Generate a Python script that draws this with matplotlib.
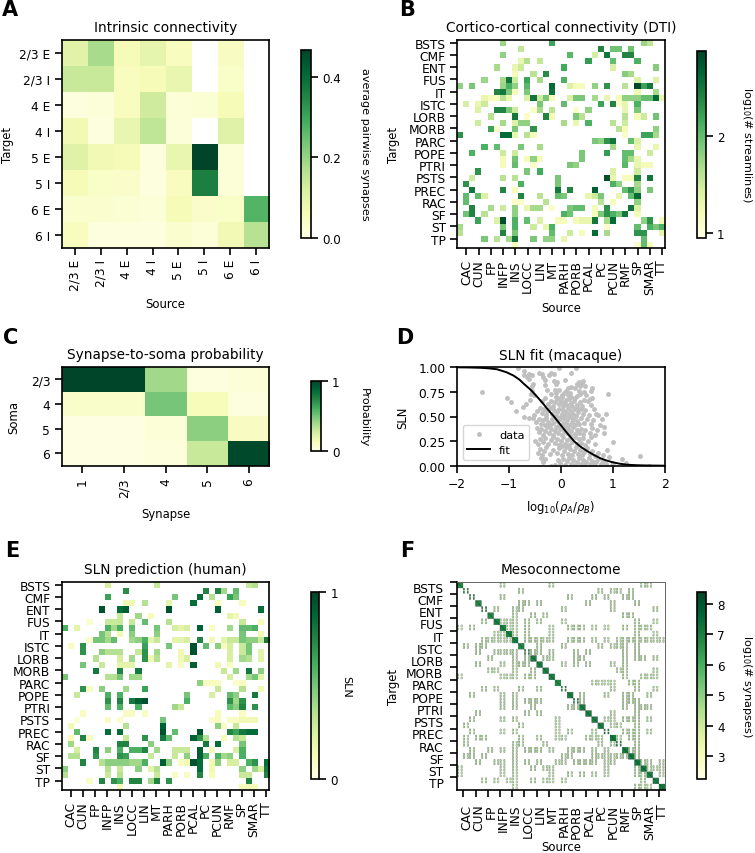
import numpy as np
import matplotlib
matplotlib.use("Agg")
import matplotlib.pyplot as plt

W, H = 755, 854
plt.rcParams["font.family"] = "DejaVu Sans"
plt.rcParams["axes.linewidth"] = 1.2

# ==================================
# Data
# ==================================

pops = ["2/3 E", "2/3 I", "4 E", "4 I", "5 E", "5 I", "6 E", "6 I"]
n = np.nan
intrinsic = [
    [.10, .18, .06, .09, .05, n, .045, n],
    [.14, .14, .05, .06, .085, n, .04, n],
    [.01, .015, .05, .13, .02, .025, .06, n],
    [.07, .01, .085, .15, .015, n, .105, n],
    [.105, .07, .06, .01, .085, .467, .02, n],
    [.06, .04, .035, .01, .05, .36, .02, n],
    [.03, .03, .025, .02, .06, .035, .04, .27],
    [.05, .01, .01, .01, .03, .02, .07, .16],
]

syn_layers = ["1", "2/3", "4", "5", "6"]
soma_layers = ["2/3", "4", "5", "6"]
syn_to_soma = [
    [1, 1, .40, .02, .04],
    [.08, .08, .50, .12, .02],
    [.01, .01, .04, .45, .10],
    [.01, .01, .03, .30, .98],
]

x_areas = ["CAC", "CUN", "FP", "INFP", "INS", "LOCC", "LIN", "MT", "PARH", "PORB",
           "PCAL", "PC", "PCUN", "RMF", "SP", "SMAR", "TT"]
y_areas = ["BSTS", "CMF", "ENT", "FUS", "IT", "ISTC", "LORB", "MORB", "PARC", "POPE",
           "PTRI", "PSTS", "PREC", "RAC", "SF", "ST", "TP"]

# (column, value) per row, 34 rows
dti = [
    [(7, 1.75), (15, 2.2), (30, 1.75), (31, 1.55)],
    [(10, 1.55), (23, 2.4), (25, 1.95), (26, 1.95), (28, 1.95)],
    [(7, 1.8), (18, 2.05), (22, 1.45), (24, 2.5), (27, 2.4), (28, 2.4)],
    [(10, 1.3), (11, 1.65), (13, 1.55), (21, 2.25), (25, 2.0), (29, 2.1)],
    [(6, 1.7), (9, 1.3), (10, 1.5), (17, 2.15), (25, 1.4), (32, 1.85)],
    [(9, 1.2), (12, 1.6), (14, 2.35), (27, 1.85), (28, 1.7)],
    [(4, 1.75), (7, 1.7), (8, 2.5), (9, 1.5), (11, 2.2), (13, 1.7), (17, 2.1), (29, 1.4), (32, 1.4)],
    [(0, 1.8), (2, 1.9), (7, 1.75), (8, 2.1), (9, 1.8), (11, 2.05), (15, 2.6), (18, 1.4), (19, 1.2),
     (20, 1.2), (22, 1.8), (24, 2.3), (27, 1.6), (29, 2.85), (30, 2.2), (31, 2.5)],
    [(6, 2.4), (7, 2.5), (8, 1.9), (9, 1.2), (11, 1.9), (15, 2.55), (29, 1.25), (32, 1.7)],
    [(4, 1.3), (5, 1.2), (6, 1.15), (7, 1.6), (8, 1.3), (11, 1.4), (12, 2.5), (13, 1.5), (14, 1.9),
     (15, 1.2), (18, 1.4), (19, 1.9), (20, 1.9), (22, 1.7), (24, 1.3), (26, 1.2), (27, 1.8), (28, 1.8),
     (29, 1.8), (30, 2.0), (31, 2.0), (32, 2.6), (33, 1.3)],
    [(1, 1.45), (3, 1.3), (4, 1.5), (13, 1.9), (17, 2.0), (23, 2.2), (25, 2.4), (26, 1.1), (27, 1.3), (29, 2.1)],
    [(3, 1.4), (6, 2.4), (7, 2.4), (8, 1.9), (9, 1.5), (12, 1.1), (13, 1.7), (15, 1.6), (19, 1.1),
     (21, 1.8), (27, 1.3), (29, 1.9)],
    [(5, 1.6), (9, 2.5), (11, 1.1), (14, 2.4), (15, 1.2), (19, 1.9), (20, 1.6), (27, 1.6), (29, 1.2),
     (30, 1.5), (32, 1.95)],
    [(3, 1.5), (7, 1.7), (9, 1.4), (10, 1.8), (11, 1.8), (17, 1.7), (19, 1.3), (21, 2.1), (25, 1.6), (27, 1.5)],
    [(5, 2.2), (6, 1.1), (9, 1.9), (12, 2.3), (26, 1.6), (27, 1.2), (32, 1.8)],
    [(0, 2.3), (7, 2.6), (8, 2.6), (9, 1.3), (11, 1.6), (12, 1.2), (27, 1.1), (30, 2.2), (31, 2.2), (32, 1.7)],
    [(22, 1.9), (23, 1.8), (24, 2.3), (25, 2.5), (28, 2.0), (29, 1.4)],
    [(4, 2.1), (6, 2.0), (10, 1.9), (13, 1.7), (25, 1.7), (29, 1.3), (32, 1.3)],
    [(2, 2.1), (7, 1.5), (9, 1.5), (20, 1.9), (24, 2.25), (27, 2.0), (28, 2.0), (31, 1.5)],
    [(7, 1.2), (9, 1.95), (11, 1.2), (12, 1.8), (13, 1.2), (20, 1.9), (27, 2.0), (28, 1.7), (29, 1.3)],
    [(7, 1.2), (9, 2.0), (12, 1.1), (18, 1.9), (19, 1.8), (27, 2.05), (29, 1.3), (30, 1.2), (31, 1.2)],
    [(3, 2.3), (11, 1.9), (13, 2.15), (25, 1.4), (29, 1.5)],
    [(2, 1.5), (7, 1.6), (9, 1.6), (16, 1.9), (24, 2.8), (25, 1.3), (27, 1.2), (28, 1.2), (29, 2.4), (31, 2.5)],
    [(1, 2.3), (10, 2.1), (16, 1.9), (25, 2.1), (26, 1.8), (29, 1.7)],
    [(2, 2.5), (7, 2.4), (9, 1.2), (16, 2.5), (18, 2.4), (22, 2.7), (27, 2.0), (28, 2.3), (29, 1.8), (31, 1.9)],
    [(1, 2.0), (3, 2.0), (4, 1.4), (10, 2.4), (13, 1.6), (16, 2.0), (17, 1.9), (21, 1.3), (22, 1.5),
     (23, 1.9), (26, 1.3), (28, 2.0), (29, 2.6)],
    [(1, 2.0), (9, 1.1), (10, 1.1), (14, 1.6), (23, 1.6), (25, 1.2), (29, 1.8)],
    [(2, 2.4), (5, 1.7), (7, 1.5), (9, 1.8), (11, 1.3), (12, 1.7), (13, 1.7), (15, 1.1), (18, 1.9),
     (19, 2.0), (20, 2.0), (22, 1.2), (24, 2.3), (28, 2.5), (29, 1.4)],
    [(1, 1.95), (2, 2.4), (4, 1.6), (9, 1.8), (17, 2.1), (18, 1.95), (22, 1.2), (23, 1.9), (24, 2.3),
     (25, 2.1), (26, 1.9), (27, 2.5), (29, 1.2)],
    [(3, 2.2), (6, 1.4), (7, 2.8), (9, 2.1), (11, 2.0), (13, 1.4), (16, 1.2), (17, 1.2), (19, 1.2),
     (20, 1.3), (21, 1.3), (22, 2.5), (24, 1.7), (25, 2.6), (30, 1.8), (31, 2.3), (33, 1.2)],
    [(0, 1.7), (7, 1.9), (9, 2.1), (12, 1.5), (14, 1.3), (15, 2.1), (24, 1.1), (29, 2.0), (31, 2.1),
     (32, 1.9), (33, 2.1)],
    [(0, 1.6), (7, 2.4), (9, 1.9), (15, 2.0), (18, 1.5), (20, 1.2), (22, 2.6), (24, 1.7), (29, 2.3),
     (30, 2.3), (33, 1.3)],
    [(4, 1.9), (6, 1.6), (8, 1.7), (9, 2.5), (12, 1.9), (14, 1.8), (15, 1.8), (17, 1.3), (30, 2.0)],
    [(9, 1.2), (29, 1.1), (30, 2.0), (31, 1.2)],
]

sln = [
    [(7, .25), (15, .3), (30, .3), (31, .35)],
    [(10, .72), (23, .75), (25, .75), (26, .4), (28, .55)],
    [(7, .65), (18, .5), (22, .85), (24, .35), (27, .65), (28, .5)],
    [(10, .15), (11, .15), (13, .35), (17, .2), (21, .85), (25, .12), (29, .12)],
    [(6, .95), (9, .85), (10, .9), (17, .95), (25, .9), (32, .85)],
    [(9, .3), (12, .4), (14, .12), (27, .2), (28, .15)],
    [(4, .07), (7, .3), (8, .3), (9, .3), (11, .3), (13, .55), (17, .35), (29, .3), (32, .12)],
    [(0, .6), (2, .2), (7, .6), (8, .4), (9, .6), (11, .55), (15, .5), (18, .25), (19, .2), (20, .25),
     (22, .9), (24, .1), (27, .4), (29, .55), (30, .55), (31, .6)],
    [(6, .5), (7, .35), (9, .15), (11, .45), (15, .45), (29, .5), (32, .15)],
    [(4, .08), (5, .5), (6, .5), (7, .4), (8, .55), (11, .4), (12, .45), (13, .6), (14, .2), (15, .3),
     (18, .2), (19, .2), (20, .25), (22, .75), (24, .15), (26, .2), (27, .3), (28, .3), (29, .5),
     (30, .45), (31, .45), (32, .3), (33, .8)],
    [(1, .1), (3, .7), (13, .65), (17, .5), (21, .95), (23, .55), (25, .45), (26, .1), (27, .25), (29, .3), (30, .5)],
    [(3, .7), (6, .45), (7, .35), (8, .35), (9, .35), (12, .3), (13, .7), (15, .4), (19, .15), (21, .95),
     (27, .25), (29, .3), (30, .5), (32, .2)],
    [(5, .35), (9, .25), (11, .4), (13, .7), (14, .15), (15, .35), (19, .15), (20, .25), (27, .25),
     (29, .4), (30, .35), (32, .2)],
    [(3, .5), (6, .3), (9, .2), (10, .2), (11, .2), (17, .2), (19, .1), (21, .9), (25, .15), (27, .1)],
    [(5, .8), (9, .75), (12, .8), (26, .3), (28, .4), (30, .8), (32, .45)],
    [(0, .5), (7, .35), (8, .35), (9, .5), (11, .4), (12, .4), (27, .25), (30, .4), (31, .5), (32, .2)],
    [(22, .45), (23, .1), (24, .12), (25, .1), (28, .07), (29, .1)],
    [(3, .7), (4, .1), (6, .45), (10, .4), (13, .65), (25, .3), (29, .35), (32, .15)],
    [(2, .3), (7, .6), (9, .6), (20, .5), (24, .25), (27, .55), (28, .45), (31, .8)],
    [(7, .7), (9, .75), (11, .8), (12, .9), (13, .95), (20, .6), (27, .7), (28, .4), (29, .7)],
    [(7, .55), (9, .6), (12, .6), (18, .4), (19, .3), (27, .55), (28, .45), (29, .75), (31, .7)],
    [(3, .1), (10, .1), (11, .1), (13, .1), (25, .12), (29, .1)],
    [(2, .05), (7, .1), (9, .08), (16, .5), (24, .08), (25, .12), (27, .1), (28, .1), (29, .15), (30, .15), (31, .15)],
    [(1, .15), (10, .35), (16, .9), (25, .45), (26, .1), (28, .3)],
    [(2, .55), (7, .85), (9, .85), (16, .95), (18, .55), (22, .95), (27, .75), (28, .65), (29, .8), (30, .85), (31, .85)],
    [(1, .12), (3, .75), (4, .1), (10, .3), (13, .7), (16, .8), (17, .55), (21, .9), (22, .7), (23, .35),
     (26, .12), (28, .35), (29, .3)],
    [(1, .4), (9, .75), (10, .75), (14, .45), (23, .8), (25, .85), (29, .5)],
    [(2, .25), (5, .75), (7, .45), (9, .6), (11, .6), (12, .6), (13, .75), (15, .4), (18, .3), (19, .3),
     (20, .3), (22, .9), (24, .15), (28, .25), (29, .6)],
    [(1, .35), (2, .35), (5, .7), (9, .7), (10, .65), (14, .3), (18, .3), (20, .45), (22, .9), (23, .6),
     (25, .6), (26, .4), (27, .45), (29, .6)],
    [(3, .75), (6, .35), (7, .45), (8, .45), (9, .45), (10, .45), (11, .4), (12, .4), (13, .6), (16, .9),
     (17, .45), (19, .1), (20, .15), (21, .95), (22, .85), (24, .15), (25, .45), (27, .25), (28, .25),
     (30, .6), (31, .7), (33, .85)],
    [(0, .45), (7, .35), (9, .3), (12, .45), (14, .2), (15, .35), (22, .85), (24, .15), (29, .45),
     (31, .4), (32, .25), (33, .8)],
    [(0, .35), (7, .3), (9, .35), (15, .3), (18, .1), (20, .1), (22, .75), (24, .12), (29, .3), (30, .3), (33, .75)],
    [(4, .08), (6, .75), (8, .7), (9, .6), (11, .75), (12, .75), (14, .4), (15, .75), (17, .7), (30, .75)],
    [(9, .12), (29, .12), (30, .15), (31, .12)],
]

# points
sln_points = [
    (-.82, .99), (-.71, .96), (-.72, .92), (-.61, .93), (-.43, .94), (-.36, .93), (-.34, .9), (-.24, .92),
    (-.2, .94), (-.14, .93), (-.03, .99), (.19, .94), (.28, .99), (-.66, .9), (-.55, .92),
    (-.62, .88), (-.54, .83), (-.3, .87), (-.13, .86), (-.08, .85), (.08, .87), (.34, .85), (.4, .84),
    (.36, .81), (.47, .81), (-.31, .82), (-.56, .81), (-.1, .83), (.42, .86), (.3, .83),
    (-.27, .77), (-.11, .77), (-.09, .74), (-.55, .76), (-.52, .72), (.6, .79), (.57, .76), (.91, .73),
    (.14, .79), (.1, .76), (.2, .8), (.26, .79), (.02, .72), (.05, .74), (.17, .74), (.13, .72), (.34, .76),
    (.37, .73), (.3, .71), (-.03, .77), (-.2, .73), (.49, .72), (.45, .75), (-.58, .73), (-1.52, .75), (.55, .68),
    (-1.03, .69), (-.96, .65), (-.74, .6), (-.67, .63), (-.59, .67), (-.36, .66), (-.3, .69), (-.25, .63),
    (-.2, .66), (-.15, .61), (-.12, .65), (-.08, .68), (-.04, .63), (0, .66), (.03, .61), (.06, .64), (.1, .67),
    (.12, .62), (.16, .68), (.19, .64), (.22, .61), (.25, .66), (.27, .69), (.31, .62), (.36, .65), (.41, .61),
    (.44, .67), (.52, .66), (.6, .69), (.57, .62), (-.1, .7), (-.05, .69), (.01, .7), (.2, .7),
    (-.87, .56), (-.52, .52), (-.47, .56), (-.41, .59), (-.37, .54), (-.33, .58), (-.29, .52), (-.26, .56),
    (-.22, .59), (-.18, .53), (-.14, .57), (-.1, .51), (-.07, .55), (-.03, .58), (.01, .53), (.04, .57),
    (.07, .51), (.1, .55), (.13, .59), (.16, .52), (.19, .56), (.23, .53), (.26, .58), (.29, .51), (.33, .55),
    (.38, .58), (.42, .53), (.47, .57), (.53, .52), (.64, .58), (.67, .53), (.72, .52), (.86, .53), (-.02, .5), (.3, .59),
    (-.71, .49), (-.61, .48), (-.53, .48), (-.48, .44), (-.43, .47), (-.39, .42), (-.35, .46), (-.31, .41),
    (-.28, .48), (-.25, .44), (-.21, .41), (-.18, .47), (-.15, .43), (-.11, .49), (-.08, .45), (-.04, .41),
    (-.01, .47), (.03, .43), (.06, .48), (.09, .42), (.12, .46), (.15, .41), (.18, .49), (.21, .44), (.24, .47),
    (.27, .41), (.31, .45), (.35, .42), (.39, .48), (.44, .43), (.5, .47), (.58, .42), (.62, .46), (.75, .41),
    (.78, .47), (.83, .39),
    (-.46, .38), (-.42, .34), (-.38, .37), (-.34, .31), (-.3, .35), (-.27, .39), (-.23, .33), (-.19, .37),
    (-.16, .31), (-.12, .35), (-.09, .39), (-.05, .33), (-.02, .37), (.02, .31), (.05, .35), (.08, .39),
    (.11, .33), (.14, .37), (.17, .31), (.2, .35), (.23, .39), (.26, .32), (.3, .36), (.34, .33), (.38, .37),
    (.43, .32), (.47, .36), (.55, .33), (.6, .38), (.66, .31), (.82, .33), (.7, .36),
    (-.5, .25), (-.45, .22), (-.4, .27), (-.34, .24), (-.3, .28), (-.25, .22), (-.2, .26), (-.16, .29),
    (-.12, .23), (-.08, .27), (-.04, .21), (0, .25), (.04, .29), (.07, .22), (.11, .26), (.15, .21), (.18, .28),
    (.22, .24), (.26, .29), (.3, .22), (.34, .27), (.38, .23), (.43, .28), (.47, .21), (.52, .25), (.58, .29),
    (.65, .22), (1.0, .24), (.02, .2),
    (-.44, .13), (-.4, .17), (-.36, .11), (-.32, .15), (-.28, .19), (-.22, .12), (-.15, .16), (-.08, .13),
    (-.03, .18), (.01, .11), (.05, .15), (.09, .19), (.13, .12), (.17, .17), (.21, .11), (.25, .15), (.29, .19),
    (.33, .12), (.37, .16), (.41, .11), (.45, .14), (.5, .18), (.55, .12), (.6, .15), (.66, .1), (.72, .13),
    (.89, .16), (1.52, .1), (.8, .11),
    (-.38, .08), (-.35, .04), (-.3, .07), (-.12, .01), (-.05, .06), (-.01, .03), (.04, .07), (.08, .01),
    (.12, .05), (.16, .08), (.2, .02), (.24, .06), (.27, .01), (.31, .04), (.35, .08), (.38, .02), (.42, .06),
    (.45, .01), (.49, .04), (.53, .08), (.56, .02), (.6, .05), (.64, .01), (.68, .04), (.72, .07), (.76, .02),
    (.8, .05), (.86, .02), (.93, .09), (1.0, .03), (1.17, .07), (1.25, .03), (1.7, 0), (-.2, 0), (.98, .01),
]

fit_x = [-2, -1.75, -1.55, -1.4, -1.23, -1.05, -.91, -.8, -.71, -.58, -.45, -.35, -.26, -.12, 0, .12, .25, .37, .5, .63, .76, .88, 1.0, 1.13, 1.27, 1.45, 1.66, 2]
fit_y = [1, .998, .995, .99, .98, .95, .915, .875, .83, .77, .695, .635, .576, .49, .41, .33, .25, .195, .15, .11, .075, .052, .034, .02, .01, .005, .002, 0]

# panel F: per-area diagonal strength and the population pattern of one 8x8 block
meso_diag = [7.0, 5.6, 5.6, 7.0, 5.8, 7.0, 7.2, 7.2, 7.2, 7.2, 7.0, 5.6, 7.2, 7.2, 7.2, 7.2, 7.0, 5.6,
             7.2, 5.8, 7.2, 7.2, 7.2, 7.2, 5.8, 7.4, 5.8, 7.4, 7.4, 7.4, 7.4, 7.2, 7.2, 7.4]
block_on = [0, 1, 5, 6]
block_rows = [0, 1, 2, 4, 5, 6]
block_vals = [4.6, 5.0, 4.4, 4.8]

# ==================================
# Helpers
# ==================================


def rect(left, top, right, bottom):
    return [left / W, 1 - bottom / H, (right - left) / W, (bottom - top) / H]


def sparse(rows, size=34):
    m = np.full((size, size), np.nan)
    for i, row in enumerate(rows):
        for j, v in row:
            m[i, j] = v
    return m


def style_ticks(ax):
    ax.tick_params(length=5.2, width=1.2, labelsize=8.8, pad=3)


def add_cbar(im, box, ticks, label, labelpad=12):
    cax = fig.add_axes(rect(*box))
    cb = fig.colorbar(im, cax=cax)
    cb.set_ticks(ticks)
    cb.ax.tick_params(length=5.2, width=1.2, labelsize=8.6, pad=3)
    cb.outline.set_linewidth(1.2)
    cb.set_label(label, rotation=270, fontsize=8.1, labelpad=labelpad)
    return cb


def letter(x, y, s):
    fig.text(x / W, 1 - y / H, s, fontsize=15, fontweight="bold", ha="center", va="center")


def area_ticks(ax):
    ax.set_xticks(range(1, 34, 2))
    ax.set_xticklabels(x_areas, rotation=90)
    ax.set_yticks(range(0, 34, 2))
    ax.set_yticklabels(y_areas)


fig = plt.figure(figsize=(W / 100, H / 100), dpi=100)

# ==================================
# A
# ==================================

ax = fig.add_axes(rect(61.7, 40.7, 269.3, 248.7))
im = ax.imshow(intrinsic, cmap="YlGn", vmin=0, vmax=.467, aspect="auto")
ax.set_xticks(range(8))
ax.set_xticklabels(pops, rotation=90)
ax.set_yticks(range(8))
ax.set_yticklabels(pops)
style_ticks(ax)
ax.set_title("Intrinsic connectivity", fontsize=9.8, pad=6)
ax.set_xlabel("Source", fontsize=8.4)
ax.set_ylabel("Target", fontsize=8.4)
ax.xaxis.set_label_coords(.5, -.235)
ax.yaxis.set_label_coords(-.232, .5)
add_cbar(im, (301, 50.7, 310.7, 238.7), [0, .2, .4], "average pairwise synapses", labelpad=21)
letter(10, 10, "A")

# ==================================
# B
# ==================================

ax = fig.add_axes(rect(457.3, 40.7, 665, 248.7))
im = ax.imshow(sparse(dti), cmap="YlGn", vmin=.95, vmax=2.88, aspect="auto")
area_ticks(ax)
style_ticks(ax)
ax.set_title("Cortico-cortical connectivity (DTI)", fontsize=9.8, pad=6)
ax.set_xlabel("Source", fontsize=8.4)
ax.set_ylabel("Target", fontsize=8.4)
ax.xaxis.set_label_coords(.5, -.255)
ax.yaxis.set_label_coords(-.275, .5)
add_cbar(im, (697, 51.7, 705.7, 238.7), [1, 2], r"log$_{10}$(# streamlines)", labelpad=21)
letter(407, 10, "B")

# ==================================
# C
# ==================================

ax = fig.add_axes(rect(61.7, 367.7, 269.3, 466.7))
im = ax.imshow(syn_to_soma, cmap="YlGn", vmin=0, vmax=1, aspect="auto")
ax.set_xticks(range(5))
ax.set_xticklabels(syn_layers, rotation=90)
ax.set_yticks(range(4))
ax.set_yticklabels(soma_layers)
style_ticks(ax)
ax.set_title("Synapse-to-soma probability", fontsize=9.8, pad=6)
ax.set_xlabel("Synapse", fontsize=8.4)
ax.set_ylabel("Soma", fontsize=8.4)
ax.xaxis.set_label_coords(.5, -.42)
ax.yaxis.set_label_coords(-.2, .5)
add_cbar(im, (311, 382.3, 320.7, 452.3), [0, 1], "Probability", labelpad=21)
letter(11, 338, "C")

# ==================================
# D
# ==================================

ax = fig.add_axes(rect(457, 368.3, 665, 466.7))
pts = np.array(sln_points)
ax.plot(pts[:, 0], pts[:, 1], "o", color="silver", markersize=2.5, label="data")
ax.plot(fit_x, fit_y, color="black", lw=1.4, label="fit")
ax.set_xlim(-2, 2)
ax.set_ylim(0, 1)
ax.set_xticks([-2, -1, 0, 1, 2])
ax.set_yticks([0, .25, .5, .75, 1])
ax.set_yticklabels(["0.00", "0.25", "0.50", "0.75", "1.00"])
style_ticks(ax)
ax.set_title("SLN fit (macaque)", fontsize=9.8, pad=6)
ax.set_xlabel(r"log$_{10}(\rho_A/\rho_B)$", fontsize=8.4)
ax.set_ylabel("SLN", fontsize=8.4)
ax.xaxis.set_label_coords(.5, -.33)
ax.yaxis.set_label_coords(-.23, .5)
ax.legend(loc="lower left", fontsize=8.2, handlelength=2, borderaxespad=.5)
letter(405, 338, "D")

# ==================================
# E
# ==================================

ax = fig.add_axes(rect(61.7, 582.7, 269.3, 790.7))
im = ax.imshow(sparse(sln), cmap="YlGn", vmin=0, vmax=1, aspect="auto")
area_ticks(ax)
style_ticks(ax)
ax.set_title("SLN prediction (human)", fontsize=9.8, pad=6)
add_cbar(im, (311.3, 593.3, 319.3, 780), [0, 1], "SLN", labelpad=9)
letter(12, 551, "E")

# ==================================
# F
# ==================================

meso = np.full((34 * 8, 34 * 8), np.nan)
for i, row in enumerate(dti):
    for j, v in row:
        for r in block_rows:
            for c, bv in zip(block_on, block_vals):
                meso[i * 8 + r, j * 8 + c] = bv
for i, d in enumerate(meso_diag):
    if d > 6.5:
        meso[i * 8:(i + 1) * 8, i * 8:(i + 1) * 8] = d - .2
        for k in range(8):
            meso[i * 8 + k, i * 8 + k] = d + .8
    else:
        for r in block_rows:
            for c in block_on:
                meso[i * 8 + r, i * 8 + c] = d + 1.2

ax = fig.add_axes(rect(457.3, 582.7, 665, 790.7))
im = ax.imshow(meso, cmap="YlGn", vmin=2.26, vmax=8.38, aspect="auto", extent=(0, 34, 34, 0),
               interpolation_stage="rgba")
ax.set_xticks(range(1, 34, 2))
ax.set_yticks(range(0, 34, 2))
ax.set_xticklabels([])
ax.set_yticklabels([])
ax.set_xticks(np.arange(1, 34, 2) + .55, minor=True)
ax.set_xticklabels(x_areas, rotation=90, minor=True)
ax.set_yticks(np.arange(0, 34, 2) + .8, minor=True)
ax.set_yticklabels(y_areas, minor=True)
style_ticks(ax)
ax.tick_params(which="minor", length=0, labelsize=8.8, pad=3 + 7.0)
ax.spines["top"].set_linewidth(.7)
ax.spines["top"].set_color("#666666")
ax.spines["right"].set_linewidth(.7)
ax.spines["right"].set_color("#666666")
ax.set_title("Mesoconnectome", fontsize=9.8, pad=6)
ax.set_xlabel("Source", fontsize=8.4)
ax.set_ylabel("Target", fontsize=8.4)
ax.xaxis.set_label_coords(.5, -.24)
ax.yaxis.set_label_coords(-.275, .5)
add_cbar(im, (697, 593, 706, 780), [3, 4, 5, 6, 7, 8], r"log$_{10}$(# synapses)", labelpad=21)
letter(407, 551, "F")

fig.savefig("out.png", dpi=100)
